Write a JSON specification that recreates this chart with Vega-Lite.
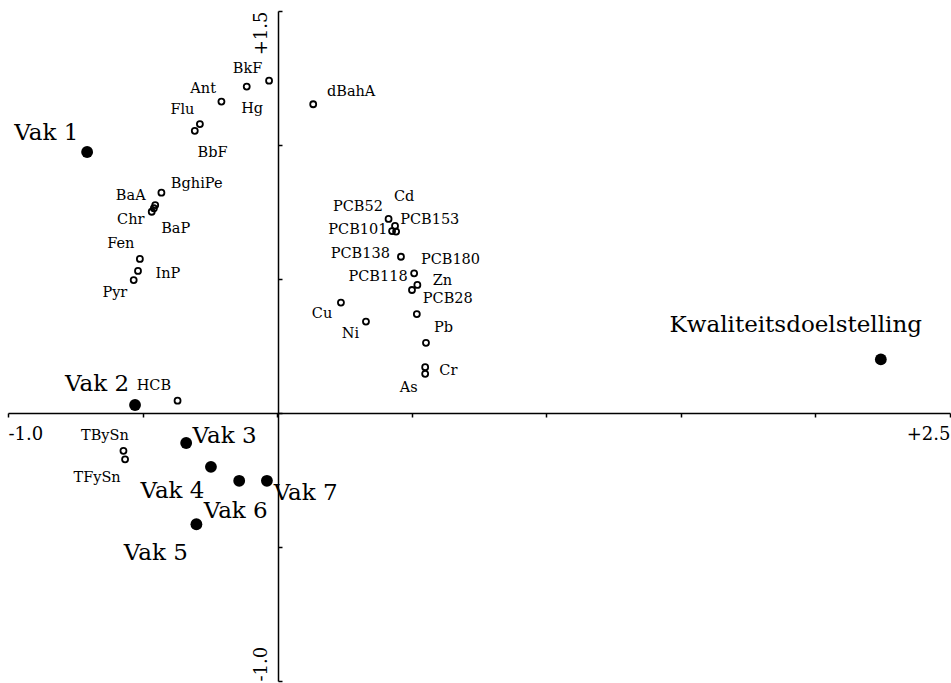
{
  "$schema": "https://vega.github.io/schema/vega-lite/v6.json",
  "width": 942,
  "height": 670,
  "autosize": {"type": "none"},
  "padding": {"left": 8, "top": 11, "right": 1, "bottom": 2},
  "background": "white",
  "config": {"view": {"stroke": null}, "font": "DejaVu Serif"},
  "datasets": {
    "species": [
      {"name": "BkF", "x": -0.030, "y": 1.240, "lx": -0.110, "ly": 1.270},
      {"name": "Hg", "x": -0.113, "y": 1.218, "lx": -0.093, "ly": 1.119},
      {"name": "Ant", "x": -0.207, "y": 1.162, "lx": -0.275, "ly": 1.195},
      {"name": "Flu", "x": -0.287, "y": 1.078, "lx": -0.352, "ly": 1.115},
      {"name": "BbF", "x": -0.306, "y": 1.053, "lx": -0.240, "ly": 0.956},
      {"name": "dBahA", "x": 0.134, "y": 1.152, "lx": 0.275, "ly": 1.183},
      {"name": "BghiPe", "x": -0.430, "y": 0.822, "lx": -0.299, "ly": 0.838},
      {"name": "BaA", "x": -0.453, "y": 0.776, "lx": -0.544, "ly": 0.795},
      {"name": "Chr", "x": -0.466, "y": 0.751, "lx": -0.544, "ly": 0.704},
      {"name": "BaP", "x": -0.458, "y": 0.764, "lx": -0.377, "ly": 0.673},
      {"name": "Fen", "x": -0.510, "y": 0.575, "lx": -0.581, "ly": 0.615},
      {"name": "InP", "x": -0.517, "y": 0.530, "lx": -0.406, "ly": 0.503},
      {"name": "Pyr", "x": -0.533, "y": 0.496, "lx": -0.603, "ly": 0.432},
      {"name": "HCB", "x": -0.370, "y": 0.046, "lx": -0.458, "ly": 0.086},
      {"name": "TBySn", "x": -0.571, "y": -0.141, "lx": -0.640, "ly": -0.101},
      {"name": "TFySn", "x": -0.565, "y": -0.173, "lx": -0.669, "ly": -0.256},
      {"name": "PCB52", "x": 0.414, "y": 0.724, "lx": 0.300, "ly": 0.755},
      {"name": "Cd", "x": 0.438, "y": 0.698, "lx": 0.472, "ly": 0.792},
      {"name": "PCB101", "x": 0.427, "y": 0.679, "lx": 0.300, "ly": 0.667},
      {"name": "PCB153", "x": 0.442, "y": 0.677, "lx": 0.567, "ly": 0.704},
      {"name": "PCB138", "x": 0.460, "y": 0.583, "lx": 0.309, "ly": 0.577},
      {"name": "PCB180", "x": 0.509, "y": 0.521, "lx": 0.644, "ly": 0.556},
      {"name": "Zn", "x": 0.521, "y": 0.478, "lx": 0.614, "ly": 0.478},
      {"name": "PCB118", "x": 0.501, "y": 0.459, "lx": 0.375, "ly": 0.494},
      {"name": "PCB28", "x": 0.519, "y": 0.369, "lx": 0.634, "ly": 0.409},
      {"name": "Cu", "x": 0.237, "y": 0.412, "lx": 0.167, "ly": 0.356},
      {"name": "Ni", "x": 0.330, "y": 0.341, "lx": 0.272, "ly": 0.279},
      {"name": "Pb", "x": 0.553, "y": 0.262, "lx": 0.618, "ly": 0.301},
      {"name": "Cr", "x": 0.550, "y": 0.171, "lx": 0.636, "ly": 0.142},
      {"name": "As", "x": 0.550, "y": 0.146, "lx": 0.489, "ly": 0.079}
    ],
    "sites": [
      {"name": "Vak 1", "x": -0.706, "y": 0.974, "lx": -0.858, "ly": 1.019},
      {"name": "Vak 2", "x": -0.528, "y": 0.030, "lx": -0.669, "ly": 0.083},
      {"name": "Vak 3", "x": -0.338, "y": -0.112, "lx": -0.195, "ly": -0.111},
      {"name": "Vak 4", "x": -0.246, "y": -0.201, "lx": -0.389, "ly": -0.318},
      {"name": "Vak 5", "x": -0.300, "y": -0.415, "lx": -0.451, "ly": -0.549},
      {"name": "Vak 6", "x": -0.141, "y": -0.253, "lx": -0.154, "ly": -0.392},
      {"name": "Vak 7", "x": -0.038, "y": -0.253, "lx": 0.106, "ly": -0.325},
      {"name": "Kwaliteitsdoelstelling", "x": 2.243, "y": 0.200, "lx": 1.927, "ly": 0.303}
    ]
  },
  "layer": [
    {
      "data": {"name": "species"},
      "mark": {"type": "point", "shape": "circle", "filled": false, "stroke": "black", "strokeWidth": 1.8, "size": 36, "opacity": 1},
      "encoding": {
        "x": {
          "field": "x", "type": "quantitative",
          "scale": {"domain": [-1, 2.5], "nice": false, "zero": false},
          "axis": {
            "title": null, "orient": "bottom", "offset": -268, "grid": false,
            "values": [-1, -0.5, 0, 0.5, 1, 1.5, 2, 2.5],
            "labelExpr": "datum.value == -1 ? '-1.0' : (datum.value == 2.5 ? '+2.5' : '')",
            "labelFlush": true, "labelFont": "DejaVu Serif", "labelFontSize": 18, "labelColor": "black",
            "labelPadding": 8, "labelBaseline": "top",
            "domainColor": "black", "domainWidth": 1.5, "tickColor": "black", "tickWidth": 1.5, "tickSize": 4
          }
        },
        "y": {
          "field": "y", "type": "quantitative",
          "scale": {"domain": [-1, 1.5], "nice": false, "zero": false},
          "axis": {
            "title": null, "orient": "left", "offset": -270, "grid": false,
            "values": [-1, -0.5, 0, 0.5, 1, 1.5],
            "labelExpr": "datum.value == -1 ? '-1.0' : (datum.value == 1.5 ? '+1.5' : '')",
            "labelAngle": 270,
            "labelAlign": {"condition": {"test": "datum.value > 0", "value": "right"}, "value": "left"},
            "labelBaseline": "alphabetic",
            "labelFont": "DejaVu Serif", "labelFontSize": 18, "labelColor": "black",
            "labelPadding": 16,
            "domainColor": "black", "domainWidth": 1.5, "tickColor": "black", "tickWidth": 1.5, "tickSize": -4
          }
        }
      }
    },
    {
      "data": {"name": "sites"},
      "mark": {"type": "circle", "color": "black", "size": 140, "opacity": 1},
      "encoding": {
        "x": {"field": "x", "type": "quantitative"},
        "y": {"field": "y", "type": "quantitative"}
      }
    },
    {
      "data": {"name": "species"},
      "mark": {"type": "text", "font": "DejaVu Serif", "fontSize": 14.5, "align": "center", "baseline": "alphabetic", "color": "black"},
      "encoding": {
        "x": {"field": "lx", "type": "quantitative"},
        "y": {"field": "ly", "type": "quantitative"},
        "text": {"field": "name"}
      }
    },
    {
      "data": {"name": "sites"},
      "mark": {"type": "text", "font": "DejaVu Serif", "fontSize": 23, "align": "center", "baseline": "alphabetic", "color": "black"},
      "encoding": {
        "x": {"field": "lx", "type": "quantitative"},
        "y": {"field": "ly", "type": "quantitative"},
        "text": {"field": "name"}
      }
    }
  ]
}
